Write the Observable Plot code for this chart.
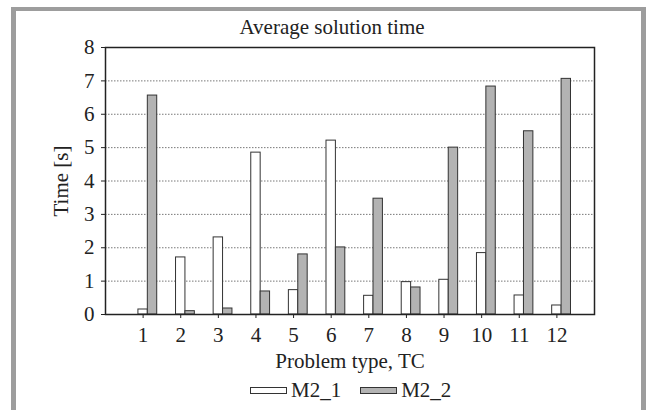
<!DOCTYPE html>
<html>
<head>
<meta charset="utf-8">
<script src="https://cdn.jsdelivr.net/npm/d3@7"></script>
<script src="https://cdn.jsdelivr.net/npm/@observablehq/plot@0.6"></script>
<style>
  body { margin: 0; background: #fff; }
  #wrap { position: relative; width: 646px; height: 410px; overflow: hidden;
          font-family: "Liberation Serif", "Times New Roman", serif; color: #222; }
  #chart { position: absolute; left: 0; top: 0; }
  #chart svg text { font-family: "Liberation Serif", "Times New Roman", serif; }
  #border { position: absolute; left: 11px; top: 7px; width: 635px; height: 600px;
            box-sizing: border-box; border-style: solid; border-color: #9d9d9d;
            border-width: 4px 5px 5px 5px; pointer-events: none; }
  #title { position: absolute; left: 0; width: 664px; top: 17px; text-align: center;
           font-size: 21px; line-height: 21px; }
  #legend { position: absolute; left: 250px; top: 380px; display: flex; align-items: center;
            font-size: 21px; line-height: 21px; gap: 19px; }
  .item { display: flex; align-items: center; }
  .sw { width: 37px; height: 7px; box-sizing: border-box; border: 1px solid #333; margin-right: 4px; }
</style>
</head>
<body>
<div id="wrap">
  <div id="chart"></div>
  <div id="title"></div>
  <div id="legend"></div>
  <div id="border"></div>
</div>
<script>
const titleText = "Average solution time";
const xLabel = "Problem type, TC";
const yLabel = "Time [s]";
const problemTypes = [1, 2, 3, 4, 5, 6, 7, 8, 9, 10, 11, 12];
const seriesNames = ["M2_1", "M2_2"];
const seriesColors = ["#ffffff", "#b3b3b3"];
const m2_1 = [0.15, 1.71, 2.31, 4.85, 0.73, 5.21, 0.56, 0.97, 1.04, 1.84, 0.57, 0.27];
const m2_2 = [6.56, 0.10, 0.18, 0.69, 1.80, 2.01, 3.47, 0.81, 5.00, 6.83, 5.49, 7.06];
const yTicks = [0, 1, 2, 3, 4, 5, 6, 7, 8];
const gridTicks = [1, 2, 3, 4, 5, 6, 7];

document.getElementById("title").textContent = titleText;

const barW = 0.25;
const rows = [];
problemTypes.forEach((t, i) => {
  rows.push({tc: t, series: seriesNames[0], value: m2_1[i], x1: t - barW / 2, x2: t + barW / 2});
  rows.push({tc: t, series: seriesNames[1], value: m2_2[i], x1: t + barW / 2, x2: t + 1.5 * barW});
});

const font = { fontFamily: "Liberation Serif", fontSize: 21, fill: "#222" };

const chart = Plot.plot({
  width: 646,
  height: 410,
  marginLeft: 105,
  marginRight: 52,
  marginTop: 47,
  marginBottom: 96,
  style: { fontFamily: "'Liberation Serif', serif", fontSize: "21px", color: "#222", background: "transparent" },
  x: { domain: [0, problemTypes.length + 1] },
  y: { domain: [0, 8] },
  color: { domain: seriesNames, range: seriesColors },
  marks: [
    Plot.gridY(gridTicks, { stroke: "#555", strokeOpacity: 1, strokeWidth: 0.8, strokeDasharray: "1.5,1.5" }),
    Plot.rectY(rows, { x1: "x1", x2: "x2", y: "value", fill: "series", stroke: "#333", strokeWidth: 1 }),
    Plot.frame({ stroke: "#222", strokeWidth: 1.5 }),
    Plot.axisY(yTicks, { ...font, stroke: "#222", tickSize: 4, tickPadding: 7, label: yLabel, labelAnchor: "center", labelArrow: "none", labelOffset: 52 }),
    Plot.axisX(problemTypes, { ...font, stroke: "#222", tickSize: 4, tickPadding: 9, tickFormat: d => String(d), label: xLabel, labelAnchor: "center", labelArrow: "none", labelOffset: 53 })
  ]
});
document.getElementById("chart").appendChild(chart);

const legend = document.getElementById("legend");
seriesNames.forEach((name, i) => {
  const item = document.createElement("div");
  item.className = "item";
  const sw = document.createElement("div");
  sw.className = "sw";
  sw.style.background = seriesColors[i];
  const label = document.createElement("span");
  label.textContent = name;
  item.appendChild(sw);
  item.appendChild(label);
  legend.appendChild(item);
});
</script>
</body>
</html>
